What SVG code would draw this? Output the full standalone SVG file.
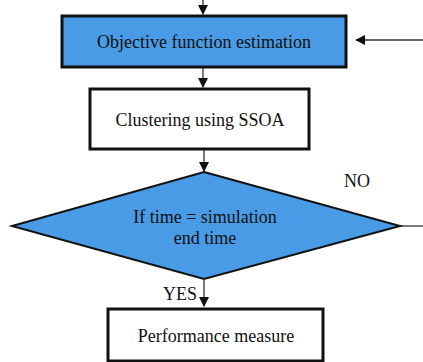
<svg xmlns="http://www.w3.org/2000/svg" width="423" height="362" viewBox="0 0 423 362">
<style>
.t{font-family:'Liberation Serif','Times New Roman',Times,serif;font-size:18px;fill:#111;text-anchor:middle}
.box{stroke:#111;stroke-width:3}
.c{stroke:#333;stroke-width:1.3;fill:none}
</style>
<defs>
<marker id="ah" markerWidth="10" markerHeight="10" refX="9" refY="5" orient="auto" markerUnits="userSpaceOnUse">
<path d="M0,0 L10,5 L0,10 Z" fill="#111"/>
</marker>
</defs>
<rect width="423" height="362" fill="#fff"/>
<g id="connectors">
<line class="c" x1="203" y1="0" x2="203" y2="14" marker-end="url(#ah)"/>
<line class="c" x1="423" y1="40" x2="356" y2="40" marker-end="url(#ah)"/>
<line class="c" x1="203" y1="68" x2="203" y2="87" marker-end="url(#ah)"/>
<line class="c" x1="204" y1="150" x2="204" y2="171" marker-end="url(#ah)"/>
<line class="c" x1="400" y1="226" x2="423" y2="226"/>
<line class="c" x1="204" y1="280" x2="204" y2="306" marker-end="url(#ah)"/>
<text class="t" x="357" y="187">NO</text>
<text class="t" x="180" y="300">YES</text>
</g>
<g id="n1">
<rect class="box" x="62" y="16" width="284" height="51" fill="#4A9BE5"/>
<text class="t" x="204" y="48">Objective function estimation</text>
</g>
<g id="n2">
<rect class="box" x="90" y="89" width="219" height="60" fill="#fff"/>
<text class="t" x="200" y="126">Clustering using SSOA</text>
</g>
<g id="n3">
<polygon points="204,172 400,226 204,279 12,226" fill="#4A9BE5" stroke="#111" stroke-width="2"/>
<text class="t" x="205" y="223">If time = simulation</text>
<text class="t" x="205" y="244">end time</text>
</g>
<g id="n4">
<rect class="box" x="108" y="309" width="215" height="52" fill="#fff"/>
<text class="t" x="216" y="342">Performance measure</text>
</g>
</svg>
